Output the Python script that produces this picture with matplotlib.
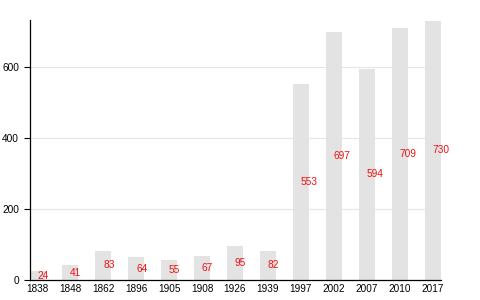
import matplotlib
matplotlib.use("Agg")
import matplotlib.pyplot as plt
import numpy as np

years = ["1838", "1848", "1862", "1896", "1905", "1908", "1926", "1939",
         "1997", "2002", "2007", "2010", "2017"]
population = [24, 41, 83, 64, 55, 67, 95, 82, 553, 697, 594, 709, 730]

plt.rcParams['font.family'] = ['Liberation Sans', 'DejaVu Sans']

fig = plt.figure(figsize=(4.8, 3.0), dpi=100)
ax = fig.add_axes([0.0625, 0.0667, 0.856, 0.8667])

x = np.arange(len(years))
ax.bar(x, population, width=0.48, color='#e3e3e3', zorder=2)

# labels sit at half the bar height, starting at the bar centre
for xi, v in zip(x, population):
    ax.text(xi, v / 2, str(v), color='#ee1111', fontsize=7.3,
            ha='left', va='center', zorder=3)

ax.set_xlim(-0.22, 12.25)
ax.set_ylim(0, 732)
ax.set_xticks(x)
ax.set_xticklabels(years)
ax.set_yticks([0, 200, 400, 600])
ax.yaxis.grid(True, color='#e6e6e6', linewidth=0.8, zorder=0)
ax.set_axisbelow(True)

for s in ['top', 'right']:
    ax.spines[s].set_visible(False)
ax.spines['left'].set_linewidth(0.9)
ax.spines['bottom'].set_linewidth(0.9)
ax.tick_params(axis='x', length=0, labelsize=7.2, pad=3)
ax.tick_params(axis='y', length=4, width=0.8, labelsize=7.3, pad=4)

fig.savefig("out.png", dpi=100)
